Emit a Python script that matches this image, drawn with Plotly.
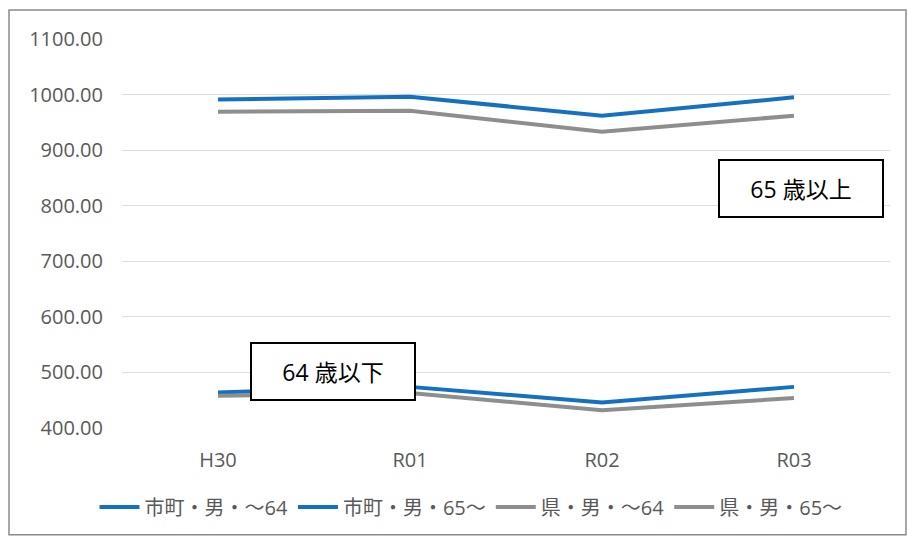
import plotly.graph_objects as go

# Fiscal years on the category axis
years = ["H30", "R01", "R02", "R03"]

# Series values (per-person figures)
city_male_u64 = [464, 474, 446, 474]
city_male_65 = [991, 996, 962, 995]
pref_male_u64 = [458, 463, 432, 454]
pref_male_65 = [969, 971, 933, 962]

y_ticks = [400, 500, 600, 700, 800, 900, 1000, 1100]

BLUE = "#1570c0"
GRAY = "#8e8e8e"
TEXT = "#595959"
FONT = "Open Sans, Noto Sans CJK JP, sans-serif"

series = [
    ("市町・男・～64", city_male_u64, BLUE),
    ("市町・男・65～", city_male_65, BLUE),
    ("県・男・～64", pref_male_u64, GRAY),
    ("県・男・65～", pref_male_65, GRAY),
]

fig = go.Figure()
for name, vals, color in series:
    fig.add_trace(go.Scatter(
        x=years, y=vals, name=name, mode="lines",
        line=dict(color=color, width=4),
    ))

L, R, T, B = 122, 17, 39, 108
W, H = 907, 537
pw = W - L - R
ph = H - T - B


def px_x(p):
    return (p - L) / pw


def px_y(p):
    return (H - B - p) / ph


fig.update_layout(
    width=W, height=H,
    margin=dict(l=L, r=R, t=T, b=B),
    paper_bgcolor="white", plot_bgcolor="white",
    font=dict(family=FONT, color=TEXT, size=19),
    showlegend=True,
    legend=dict(
        orientation="h", x=px_x(471), xanchor="center",
        y=px_y(507), yanchor="middle",
        font=dict(size=20, color=TEXT, family=FONT),
        itemwidth=40, tracegroupgap=0, traceorder="normal",
        bgcolor="rgba(0,0,0,0)",
    ),
    xaxis=dict(
        type="category", range=[-0.5, 3.5],
        showgrid=False, showline=False, zeroline=False,
        ticks="", ticklabelstandoff=18,
        tickfont=dict(size=20, color=TEXT),
    ),
    yaxis=dict(
        range=[400, 1100], tickvals=y_ticks,
        tickformat=".2f",
        showgrid=True, gridcolor="#dedede", gridwidth=1,
        zeroline=False, showline=False,
        ticks="", ticklabelstandoff=18,
        tickfont=dict(size=20, color=TEXT),
    ),
)

# Outer chart frame
fig.add_shape(
    type="rect", xref="paper", yref="paper",
    x0=px_x(9), x1=px_x(906), y0=px_y(536), y1=px_y(10),
    line=dict(color="#8a8a8a", width=1.5), fillcolor="rgba(0,0,0,0)",
    layer="below",
)

# Age-group callouts
for text, cx, cy in [("65 歳以上", 801, 188.5), ("64 歳以下", 333, 372)]:
    fig.add_annotation(
        text=text, xref="paper", yref="paper",
        x=px_x(cx), y=px_y(cy), xanchor="center", yanchor="middle",
        showarrow=False, width=162, height=55,
        bgcolor="white", bordercolor="black", borderwidth=2, borderpad=0,
        font=dict(size=23, color="black", family=FONT),
    )

fig.write_html("out.html")
